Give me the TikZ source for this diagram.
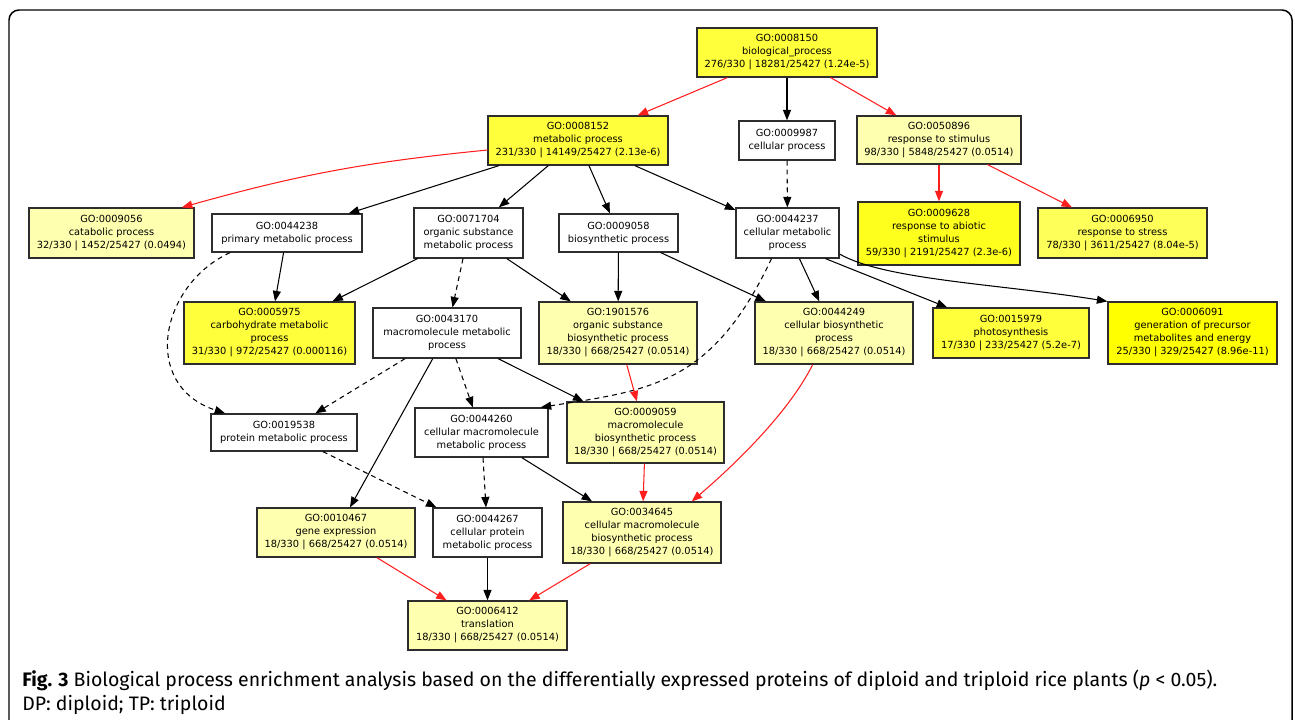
\documentclass[tikz,border=0pt]{standalone}
\usepackage{fontspec}
\setmainfont{DejaVu Sans}
\newfontfamily\capfont{Fira Sans}
\usetikzlibrary{arrows.meta}
\definecolor{goline}{RGB}{45,45,45}
\definecolor{gored}{RGB}{255,30,30}
\definecolor{yelA}{RGB}{255,255,176}
\definecolor{yelB}{RGB}{255,255,60}
\definecolor{yelC}{RGB}{255,255,30}
\definecolor{yelD}{RGB}{255,255,0}
\definecolor{yelE}{RGB}{255,255,90}
\tikzset{
	goterm/.style={draw=goline,line width=0.7pt,align=center,inner sep=0pt,font=\fontsize{5.6}{7.4}\selectfont},
	boxsize/.style 2 args={minimum width=#1*0.02cm,minimum height=#2*0.02cm},
	isa/.style={-{Triangle[length=0.21cm,width=0.16cm]},line width=0.6pt},
	part/.style={isa,dash pattern=on 2.8pt off 2.3pt},
	sig/.style={isa,color=gored}
}

\begin{document}
\begin{tikzpicture}[x=0.02cm,y=-0.02cm]
				\useasboundingbox (0,0) rectangle (1295,720);
				\draw[line width=0.85pt,rounded corners=0.2cm] (9,745)--(9,10)--(1292,10)--(1292,745);

				\node[goterm,fill=yelB,boxsize={180}{49}] (g8150) at (787,52.5) {GO:0008150\\biological\_process\\276/330 | 18281/25427 (1.24e-5)};
				\node[goterm,fill=yelB,boxsize={180}{49}] (g8152) at (578,140.5) {GO:0008152\\metabolic process\\231/330 | 14149/25427 (2.13e-6)};
				\node[goterm,fill=white,boxsize={96}{39}] (g9987) at (787,140.5) {GO:0009987\\cellular process};
				\node[goterm,fill=yelA,boxsize={164}{48}] (g50896) at (939,140) {GO:0050896\\response to stimulus\\98/330 | 5848/25427 (0.0514)};
				\node[goterm,fill=yelC,boxsize={162}{63}] (g9628) at (939,233.5) {GO:0009628\\response to abiotic\\stimulus\\59/330 | 2191/25427 (2.3e-6)};
				\node[goterm,fill=yelE,boxsize={169}{50}] (g6950) at (1122.5,233) {GO:0006950\\response to stress\\78/330 | 3611/25427 (8.04e-5)};
				\node[goterm,fill=yelA,boxsize={165}{50}] (g9056) at (111.5,233) {GO:0009056\\catabolic process\\32/330 | 1452/25427 (0.0494)};
				\node[goterm,fill=white,boxsize={150}{38}] (g44238) at (287,233) {GO:0044238\\primary metabolic process};
				\node[goterm,fill=white,boxsize={109}{50}] (g71704) at (468.5,233) {GO:0071704\\organic substance\\metabolic process};
				\node[goterm,fill=white,boxsize={119}{38}] (g9058) at (618.5,233) {GO:0009058\\biosynthetic process};
				\node[goterm,fill=white,boxsize={103}{50}] (g44237) at (787.5,233) {GO:0044237\\cellular metabolic\\process};
				\node[goterm,fill=yelB,boxsize={171}{62}] (g5975) at (269.5,333) {GO:0005975\\carbohydrate metabolic\\process\\31/330 | 972/25427 (0.000116)};
				\node[goterm,fill=white,boxsize={148}{50}] (g43170) at (447,333) {GO:0043170\\macromolecule metabolic\\process};
				\node[goterm,fill=yelA,boxsize={158}{62}] (g1901576) at (618,333) {GO:1901576\\organic substance\\biosynthetic process\\18/330 | 668/25427 (0.0514)};
				\node[goterm,fill=yelA,boxsize={158}{62}] (g44249) at (834,333) {GO:0044249\\cellular biosynthetic\\process\\18/330 | 668/25427 (0.0514)};
				\node[goterm,fill=yelB,boxsize={156}{50}] (g15979) at (1011,333) {GO:0015979\\photosynthesis\\17/330 | 233/25427 (5.2e-7)};
				\node[goterm,fill=yelD,boxsize={169}{62}] (g6091) at (1192.5,333) {GO:0006091\\generation of precursor\\metabolites and energy\\25/330 | 329/25427 (8.96e-11)};
				\node[goterm,fill=white,boxsize={146}{37}] (g19538) at (284,432.5) {GO:0019538\\protein metabolic process};
				\node[goterm,fill=white,boxsize={133}{49}] (g44260) at (481.5,432.5) {GO:0044260\\cellular macromolecule\\metabolic process};
				\node[goterm,fill=yelA,boxsize={157}{61}] (g9059) at (645.5,432.5) {GO:0009059\\macromolecule\\biosynthetic process\\18/330 | 668/25427 (0.0514)};
				\node[goterm,fill=yelA,boxsize={158}{49}] (g10467) at (336,532.5) {GO:0010467\\gene expression\\18/330 | 668/25427 (0.0514)};
				\node[goterm,fill=white,boxsize={109}{49}] (g44267) at (487.5,532.5) {GO:0044267\\cellular protein\\metabolic process};
				\node[goterm,fill=yelA,boxsize={158}{61}] (g34645) at (642,532.5) {GO:0034645\\cellular macromolecule\\biosynthetic process\\18/330 | 668/25427 (0.0514)};
				\node[goterm,fill=yelA,boxsize={159}{49}] (g6412) at (487.5,625.5) {GO:0006412\\translation\\18/330 | 668/25427 (0.0514)};

				\draw[sig] (g8150)--(g8152);
				\draw[isa] (g8150)--(g9987);
				\draw[sig] (g8150)--(g50896);
				\draw[sig] (g50896)--(g9628);
				\draw[sig] (g50896)--(g6950);
				\draw[sig] (g8152.186.7) to[bend right=5] (g9056.20);
				\draw[isa] (g8152)--(g44238);
				\draw[isa] (g8152)--(g71704);
				\draw[isa] (g8152)--(g9058);
				\draw[isa] (g8152)--(g44237);
				\draw[part] (g9987)--(g44237);
				\draw[isa] (g44238)--(g5975);
				\draw[part] (g44238.199) .. controls (160,285) and (140,385) .. (g19538.162);
				\draw[isa] (g71704)--(g5975);
				\draw[part] (g71704)--(g43170);
				\draw[isa] (g71704)--(g1901576);
				\draw[isa] (g9058)--(g1901576);
				\draw[isa] (g9058)--(g44249);
				\draw[isa] (g44237)--(g44249);
				\draw[isa] (g44237.-34)--(g15979);
				\draw[isa] (g44237.-22) .. controls (885,280) and (1000,284) .. (g6091.north west);
				\draw[part] (g44237.238) .. controls (712,385) and (650,390) .. (g44260.23);
				\draw[part] (g43170)--(g19538);
				\draw[part] (g43170)--(g44260);
				\draw[isa] (g43170)--(g10467);
				\draw[isa] (g43170)--(g9059);
				\draw[sig] (g1901576)--(g9059);
				\draw[sig] (g44249.236) .. controls (790,410) and (740,460) .. (g34645.32);
				\draw[sig] (g9059)--(g34645);
				\draw[part] (g19538)--(g44267);
				\draw[part] (g44260)--(g44267);
				\draw[isa] (g44260)--(g34645);
				\draw[sig] (g10467)--(g6412);
				\draw[isa] (g44267)--(g6412);
				\draw[sig] (g34645)--(g6412);

				\node[anchor=west,font=\capfont\fontsize{11.1}{13}\selectfont,inner sep=0pt] (cap1) at (22,680) {\textbf{Fig. 3} Biological process enrichment analysis based on the differentially expressed proteins of diploid and triploid rice plants (\textit{p} < 0.05).};
				\node[anchor=west,font=\capfont\fontsize{11.1}{13}\selectfont,inner sep=0pt] (cap2) at (22,705) {DP: diploid; TP: triploid};
\end{tikzpicture}
\end{document}
